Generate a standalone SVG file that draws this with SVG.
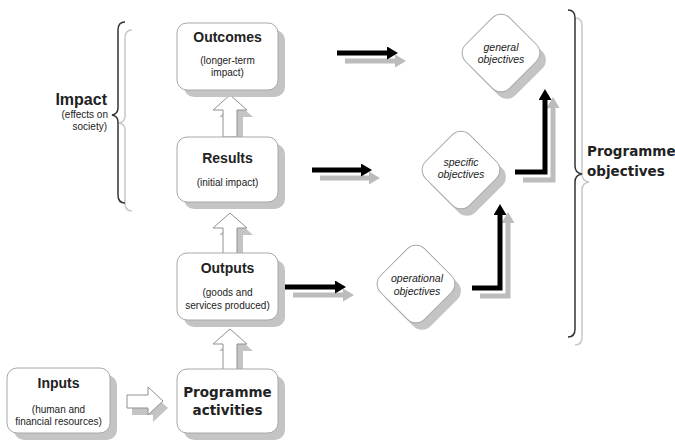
<svg xmlns="http://www.w3.org/2000/svg" width="675" height="441" viewBox="0 0 675 441">
<style>
.box{fill:#fff;stroke:#a8a8a8;stroke-width:1}
.shd{fill:#c4c4c4}
.ttl{font-family:"Liberation Sans",Arial,sans-serif;font-weight:bold;font-size:14px;fill:#222;text-anchor:middle}
.ttl2{font-family:"DejaVu Sans",Verdana,sans-serif;font-weight:bold;font-size:13.5px;fill:#222}
.sm{font-family:"Liberation Sans",Arial,sans-serif;font-size:10px;fill:#222;text-anchor:middle}
.end{text-anchor:end}
.it{font-family:"Liberation Sans",Arial,sans-serif;font-style:italic;font-size:10.5px;fill:#222;text-anchor:middle}
.hol{fill:#fff;stroke:#909090;stroke-width:1}
.blk{fill:none;stroke:#000;stroke-width:5}
.gry{fill:none;stroke:#bcbcbc;stroke-width:5}
.brb{fill:none;stroke:#333;stroke-width:1.5}
.brg{fill:none;stroke:#c8c8c8;stroke-width:1.5}
</style>
<defs>
<marker id="mb" markerUnits="userSpaceOnUse" markerWidth="12" markerHeight="14" refX="1" refY="6.5" orient="auto"><path d="M0,0 L11,6.5 L0,13 z" fill="#000"/></marker>
<marker id="mg" markerUnits="userSpaceOnUse" markerWidth="12" markerHeight="14" refX="1" refY="6.5" orient="auto"><path d="M0,0 L11,6.5 L0,13 z" fill="#bcbcbc"/></marker>
<path id="upa" d="M0,0 L17,15 L7,15 L7,42 L-7,42 L-7,15 L-17,15 z"/>
<rect id="dia" x="-31" y="-31" width="62" height="62" rx="12" transform="rotate(45)"/>
</defs>
<rect width="675" height="441" fill="#fff"/>

<g id="connectors">
  <use href="#upa" x="236" y="102" class="shd"/>
  <use href="#upa" x="230" y="95" class="hol"/>
  <use href="#upa" x="236" y="220" class="shd"/>
  <use href="#upa" x="230" y="213" class="hol"/>
  <use href="#upa" x="236" y="336" class="shd"/>
  <use href="#upa" x="230" y="329" class="hol"/>
  <path class="shd" d="M132,402 L153,402 L153,394 L168,408 L153,422 L153,415 L132,415 z"/>
  <path class="hol" d="M127,395 L148,395 L148,387 L163,401 L148,415 L148,408 L127,408 z"/>
  <path class="gry" d="M345,61 H396" marker-end="url(#mg)"/>
  <path class="blk" d="M337,53 H388" marker-end="url(#mb)"/>
  <path class="gry" d="M320,178 H370" marker-end="url(#mg)"/>
  <path class="blk" d="M312,170 H362" marker-end="url(#mb)"/>
  <path class="gry" d="M293,295 H344" marker-end="url(#mg)"/>
  <path class="blk" d="M285,287 H336" marker-end="url(#mb)"/>
  <path class="gry" d="M480,296 H508 V222" marker-end="url(#mg)"/>
  <path class="blk" d="M472,288 H500 V214" marker-end="url(#mb)"/>
  <path class="gry" d="M523,180 H553 V107" marker-end="url(#mg)"/>
  <path class="blk" d="M515,172 H545 V99" marker-end="url(#mb)"/>
</g>

<g id="outcomes">
  <rect class="shd" x="184" y="30" width="101" height="67" rx="10"/>
  <rect class="box" x="177" y="23" width="101" height="67" rx="10"/>
  <text class="ttl" x="227.5" y="42">Outcomes</text>
  <text class="sm" x="227.5" y="64">(longer-term</text>
  <text class="sm" x="227.5" y="76">impact)</text>
</g>
<g id="results">
  <rect class="shd" x="184" y="144" width="101" height="65" rx="10"/>
  <rect class="box" x="177" y="137" width="101" height="65" rx="10"/>
  <text class="ttl" x="227.5" y="163">Results</text>
  <text class="sm" x="227.5" y="186">(initial impact)</text>
</g>
<g id="outputs">
  <rect class="shd" x="184" y="260" width="101" height="67" rx="10"/>
  <rect class="box" x="177" y="253" width="101" height="67" rx="10"/>
  <text class="ttl" x="227.5" y="273">Outputs</text>
  <text class="sm" x="227.5" y="296">(goods and</text>
  <text class="sm" x="227.5" y="309">services produced)</text>
</g>
<g id="inputs">
  <rect class="shd" x="14" y="375" width="103" height="65" rx="10"/>
  <rect class="box" x="7" y="368" width="103" height="65" rx="10"/>
  <text class="ttl" x="58.5" y="388">Inputs</text>
  <text class="sm" x="58.5" y="413">(human and</text>
  <text class="sm" x="58.5" y="425">financial resources)</text>
</g>
<g id="activities">
  <rect class="shd" x="184" y="376" width="101" height="64" rx="10"/>
  <rect class="box" x="177" y="369" width="101" height="64" rx="10"/>
  <text class="ttl2" x="227.5" y="397" text-anchor="middle">Programme</text>
  <text class="ttl2" x="227.5" y="415" text-anchor="middle">activities</text>
</g>

<g id="general">
  <use href="#dia" x="507" y="60" class="shd"/>
  <use href="#dia" x="501" y="53" class="box"/>
  <text class="it" x="501" y="51">general</text>
  <text class="it" x="501" y="63">objectives</text>
</g>
<g id="specific">
  <use href="#dia" x="467" y="177" class="shd"/>
  <use href="#dia" x="461" y="170" class="box"/>
  <text class="it" x="461" y="166">specific</text>
  <text class="it" x="461" y="178">objectives</text>
</g>
<g id="operational">
  <use href="#dia" x="422" y="291" class="shd"/>
  <use href="#dia" x="416" y="284" class="box"/>
  <text class="it" x="417" y="282">operational</text>
  <text class="it" x="417" y="295">objectives</text>
</g>

<g id="impact">
  <path class="brg" d="M132,30 Q125,30 125,38 V116 Q125,122 119,123 Q125,124 125,130 V203 Q125,211 132,211"/>
  <path class="brb" d="M125,22 Q118,22 118,30 V108 Q118,114 112,115 Q118,116 118,122 V195 Q118,203 125,203"/>
  <text class="ttl end" x="107" y="105" style="font-size:16px">Impact</text>
  <text class="sm end" x="108" y="118">(effects on</text>
  <text class="sm end" x="107" y="130">society)</text>
</g>

<g id="programme-objectives">
  <path class="brg" d="M575,18 Q582,18 582,26 V174 Q582,181 589,182 Q582,183 582,190 V337 Q582,345 575,345"/>
  <path class="brb" d="M568,10 Q575,10 575,18 V166 Q575,173 582,174 Q575,175 575,182 V329 Q575,337 568,337"/>
  <text class="ttl2" x="587" y="156">Programme</text>
  <text class="ttl2" x="587" y="176">objectives</text>
</g>
</svg>
